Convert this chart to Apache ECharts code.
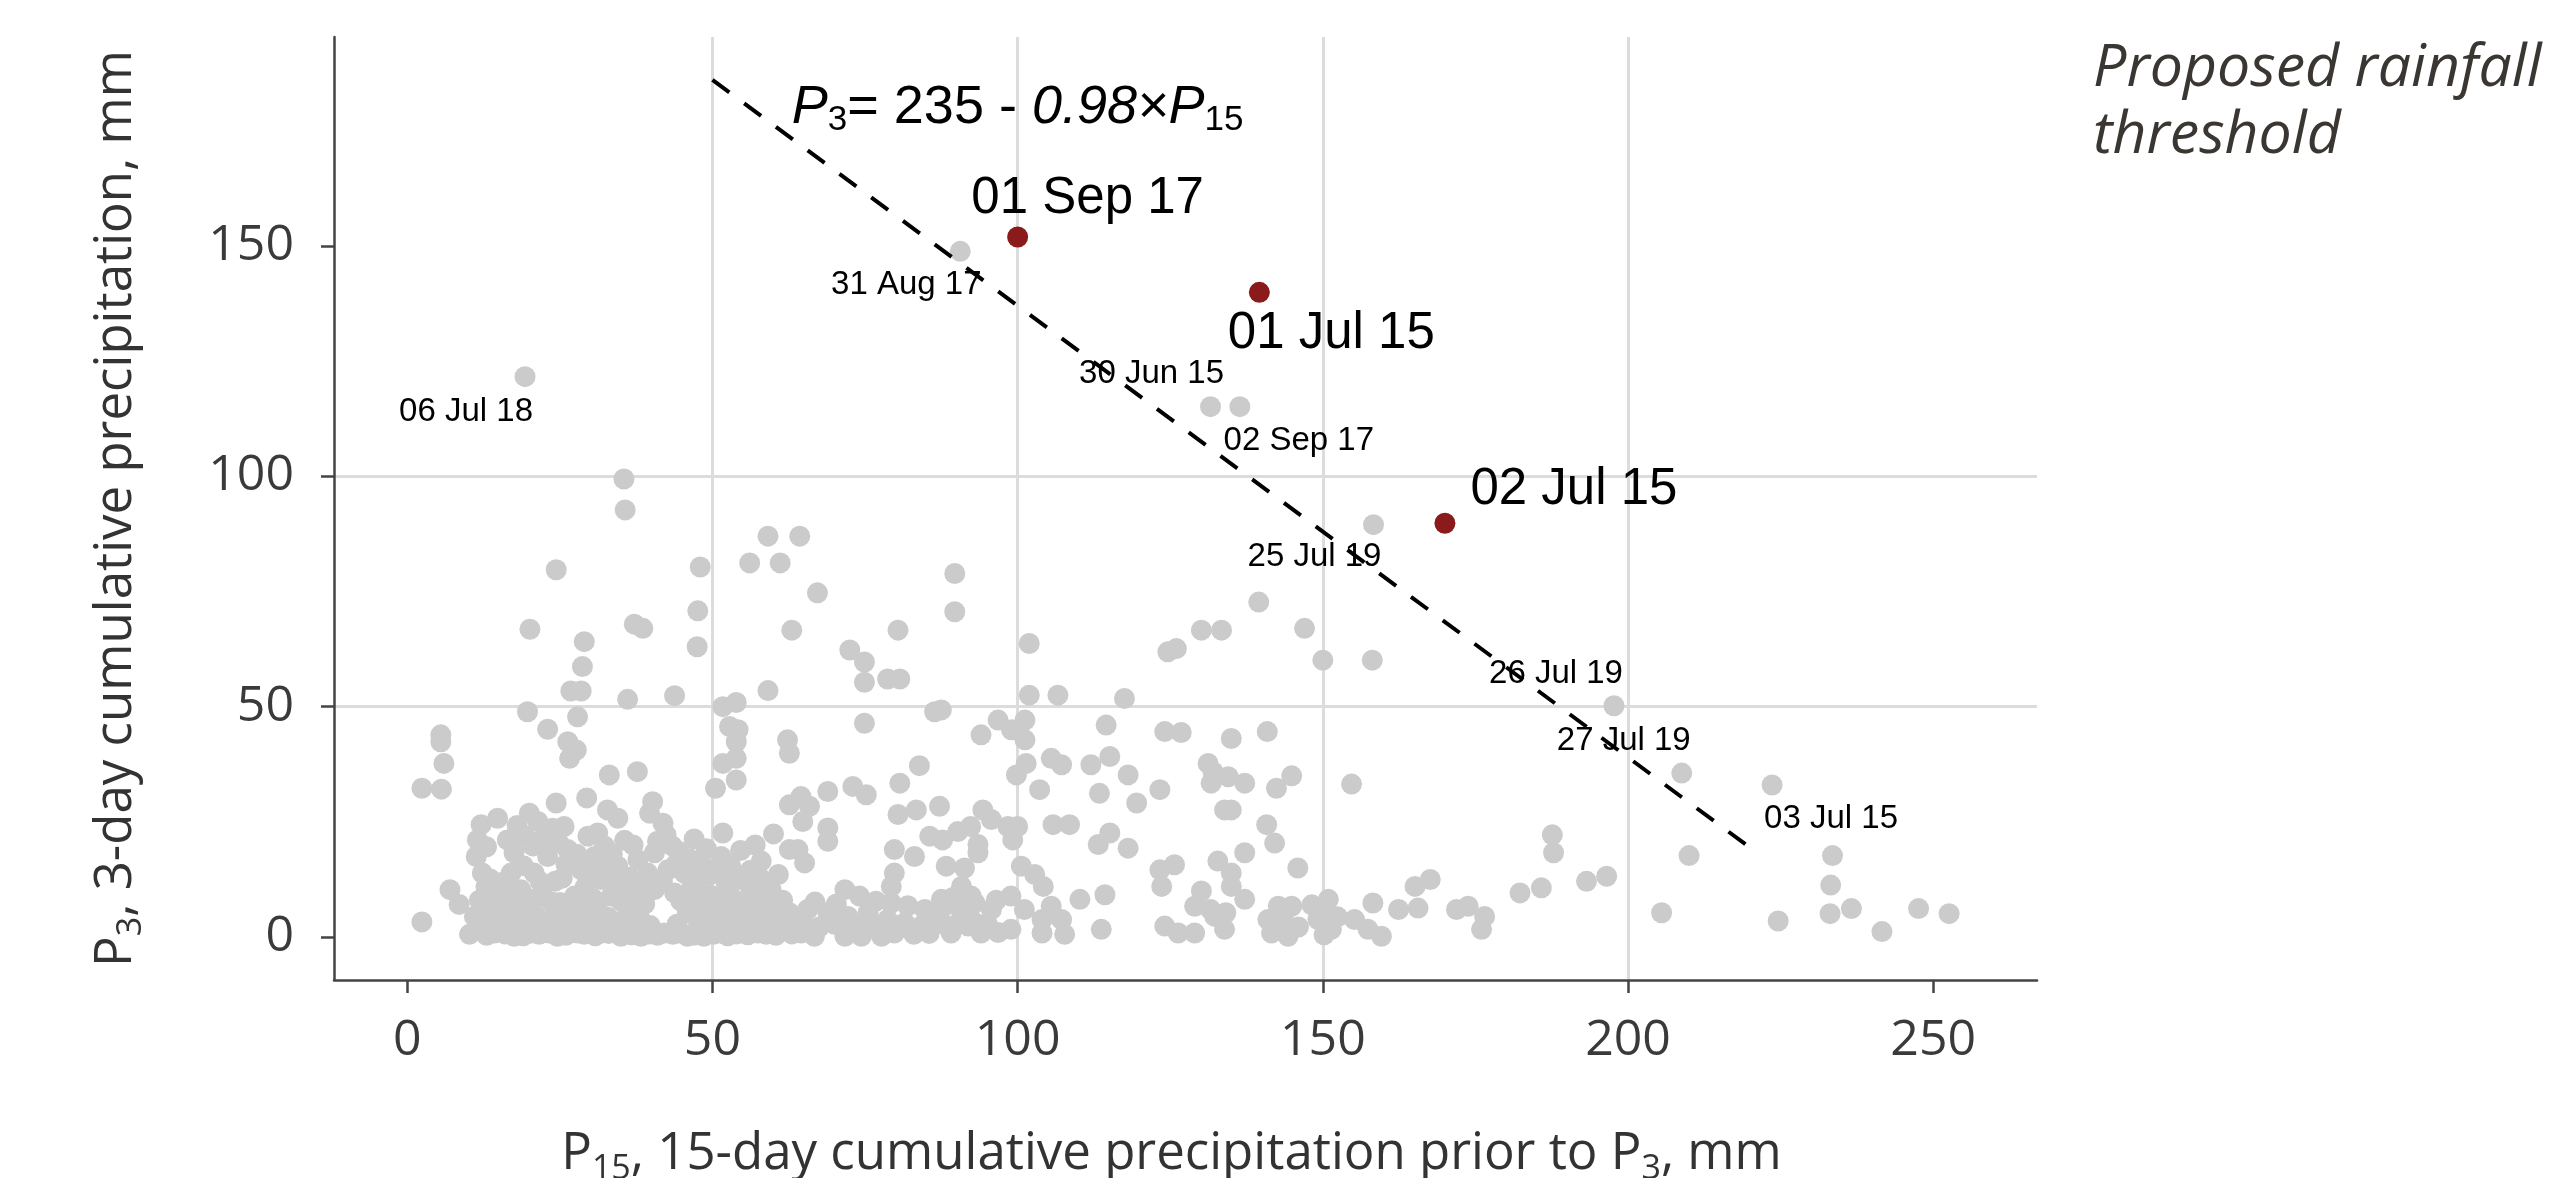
<!DOCTYPE html>
<html>
<head>
<meta charset="utf-8">
<script src="https://cdn.jsdelivr.net/npm/echarts@6/dist/echarts.min.js"></script>
<style>html,body{margin:0;padding:0;background:#fff}#c{width:2553px;height:1178px}</style>
</head>
<body>
<div id="c"></div>
<script>
// ---------- data ----------
const xTicks = [0, 50, 100, 150, 200, 250];
const yTicks = [0, 50, 100, 150];

const grayPoints = [
  [24.4,79.7],[48.0,80.3],[59.1,87.0],[56.1,81.2],[61.1,81.2],[64.3,87.0],
  [20.1,66.8],[29.0,64.1],[28.7,58.7],[26.8,53.4],[28.5,53.4],[36.1,51.6],[43.8,52.4],[59.1,53.5],
  [37.2,67.9],[38.6,67.0],[47.6,70.8],[47.5,63.0],[63.0,66.6],
  [19.7,48.9],[23.0,45.1],[27.9,47.8],[26.3,42.4],[27.7,40.6],[26.6,38.8],
  [5.5,43.9],[5.5,42.4],[6.0,37.7],[2.4,32.3],[5.6,32.1],
  [33.1,35.2],[37.7,35.9],
  [51.7,50.0],[53.9,50.9],[52.8,45.7],[54.2,45.0],[53.9,42.4],[53.9,38.8],[51.7,37.7],[53.9,34.1],[50.5,32.3],
  [62.3,42.8],[62.6,39.9],[62.6,28.7],
  [24.4,29.1],[29.4,30.2],[32.8,27.6],[34.5,25.8],[35.6,21.0],
  [40.2,29.4],[39.7,26.9],[41.9,24.7],[42.4,22.2],[41.0,20.8],
  [47.0,21.3],[51.7,22.6],[58.0,16.5],[62.6,19.0],
  [2.4,3.3],[7.0,10.3],[8.5,7.1],
  [35.5,99.4],[35.7,92.7],
  [12.1,24.4],[14.8,25.8],[20.0,26.9],[21.4,25.1],[11.5,21.1],[11.3,17.5],[12.3,13.9],[12.9,11.0],[11.0,4.5],[11.5,1.7],
  [13.7,6.7],[14.3,0.9],[16.4,21.1],[17.5,18.3],[17.0,13.9],[18.6,10.3],[16.4,9.6],[15.4,3.8],[17.5,0.2],[20.3,0.9],
  [21.9,21.1],[23.0,17.5],[20.8,13.9],[22.2,8.9],[23.6,3.8],[24.6,0.2],[25.7,24.0],[26.3,19.0],[29.6,21.9],[28.5,14.6],
  [27.4,8.9],[26.3,5.3],[27.9,0.9],[30.7,17.5],[31.7,12.5],[34.5,15.4],[33.4,8.9],[31.2,6.0],[31.7,0.9],[36.1,8.9],
  [37.2,3.8],[35.0,0.2],[38.3,0.2],[40.5,18.3],[39.4,13.9],[40.5,10.3],[42.7,14.6],[43.8,9.6],[42.1,0.9],[45.4,13.9],
  [48.1,16.1],[47.6,11.0],[45.9,5.3],[45.9,0.2],[49.2,3.8],[48.6,0.2],[51.4,17.5],[53.0,15.4],[54.2,12.5],[51.9,6.0],
  [51.4,0.9],[54.7,0.9],[57.4,0.9],[59.6,10.3],[57.4,7.4],[60.2,6.0],[62.6,5.3],[62.3,1.7],[29.6,3.8],[19.7,3.8],[50.8,3.8],
  [12.8,3.0],[16.0,6.5],[18.9,2.2],[19.5,7.0],[21.0,4.8],[22.8,1.2],[25.0,7.5],[25.8,2.6],[28.8,6.5],[30.2,2.0],
  [32.9,4.3],[34.0,11.5],[33.8,1.5],[36.5,5.9],[38.9,7.2],[39.8,2.5],[44.2,2.8],[44.8,7.9],[46.8,8.2],[47.5,1.8],
  [49.9,9.0],[50.0,1.2],[52.8,2.6],[53.5,8.2],[55.8,4.0],[56.2,10.8],[58.6,3.2],[61.0,2.8],[15.2,11.8],[19.0,15.5],
  [24.2,12.1],[26.0,15.8],[29.1,10.8],[32.3,19.8],[37.8,16.8],[38.2,11.5],[44.5,18.6],[49.5,13.4],[56.2,14.5],[20.6,19.8],
  [13.0,19.6],[23.8,23.6],[18.0,24.2],
  [10.2,0.6],[13.0,0.4],[16.0,0.7],[19.0,0.3],[21.6,0.6],[23.2,0.9],[26.0,0.4],[29.0,0.6],[30.8,0.3],[33.0,0.8],
  [36.8,0.5],[39.6,0.7],[41.0,0.4],[43.5,0.6],[44.6,0.9],[47.0,0.4],[50.2,0.6],[52.5,0.3],[53.9,0.7],[55.8,0.5],
  [58.8,0.6],[60.4,0.4],[63.0,0.7],
  [12.0,3.8],[14.8,4.6],[17.8,3.6],[20.4,3.4],[24.8,4.2],[27.0,3.5],[30.0,4.7],[34.8,3.4],[38.0,4.4],[47.8,4.6],
  [53.0,4.8],[57.0,3.9],[59.5,4.3],[61.8,3.6],
  [11.8,8.0],[14.5,8.6],[17.2,7.9],[20.0,8.3],[23.6,7.6],[30.4,8.4],[35.0,7.8],[37.6,9.0],[46.0,9.6],[48.8,7.4],
  [52.0,9.2],[55.0,7.6],[58.2,8.6],[61.5,8.0],
  [13.6,12.6],[16.0,11.2],[21.8,12.0],[25.4,12.8],[30.0,14.6],[32.6,15.2],[36.4,13.0],[41.8,12.2],[44.0,15.8],[46.5,12.6],
  [50.8,15.0],[52.2,12.0],[57.8,12.8],[60.8,13.6],
  [19.2,22.0],[24.8,20.5],[27.8,18.0],[31.2,22.6],[33.6,18.0],[37.0,20.0],[43.4,19.8],[46.2,17.0],[49.0,19.2],[54.6,18.8],
  [57.0,20.0],[60.0,22.4],
  [67.2,74.7],[89.7,78.9],[89.7,70.6],[80.4,66.6],[72.5,62.3],[74.9,59.7],[74.9,55.3],[78.7,56.0],[80.7,56.0],[86.4,48.9],
  [87.5,49.3],[74.9,46.4],[96.8,47.1],[94.0,43.9],[99.0,45.0],[101.2,47.1],[101.2,42.8],[101.9,52.5],[106.6,52.5],[101.9,63.7],
  [101.4,37.7],[99.8,35.2],[83.9,37.2],[80.7,33.4],[68.9,31.6],[73.0,32.7],[75.2,30.9],[64.5,30.5],[65.9,28.4],[64.8,25.1],
  [68.9,23.7],[68.9,20.8],[64.0,19.0],[65.1,16.1],[80.4,26.6],[83.4,27.6],[87.2,28.4],[94.3,27.6],[95.7,25.5],[85.6,21.9],
  [87.7,21.1],[90.2,22.9],[92.3,24.0],[93.5,20.1],[93.5,18.3],[98.4,24.0],[100.0,24.0],[99.2,21.1],[79.8,19.0],[79.8,13.9],
  [79.3,11.0],[83.1,17.5],[88.3,15.4],[91.3,15.0],[90.8,11.0],[100.6,15.4],[102.8,13.6],[104.2,11.0],[71.7,10.3],[74.1,8.9],
  [98.9,8.9],[101.1,6.0],[105.5,6.7],[107.2,3.8],[110.2,8.2],[114.3,9.2],[113.7,1.7],[98.9,1.7],[104.0,0.9],[107.7,0.6],
  [65.6,6.0],[68.9,5.3],[72.2,4.5],[75.5,5.3],[78.7,3.8],[81.5,3.1],[84.2,2.4],[86.4,3.8],[89.1,0.9],[91.9,2.4],
  [94.0,0.9],[95.7,6.0],[64.5,0.9],[66.7,0.2],[71.7,0.2],[74.4,0.2],[77.7,0.2],[79.8,0.9],[88.0,6.7],[90.8,6.0],
  [93.0,7.4],[79.3,7.4],[87.5,8.2],[92.4,8.9],[93.0,3.1],[104.0,3.8],
  [65.0,2.6],[67.5,2.2],[70.0,2.8],[73.2,2.4],[76.0,2.6],[80.5,2.2],[83.0,0.6],[85.5,0.8],[88.0,2.7],[90.5,3.4],
  [95.0,2.9],[96.8,1.0],[66.8,7.6],[70.3,7.2],[76.8,7.8],[82.0,6.8],[84.8,6.0],[89.4,8.6],[96.5,8.0],
  [124.1,44.6],[126.8,44.4],[135.0,43.1],[124.6,61.9],[126.0,62.6],[130.1,66.6],[133.4,66.6],[139.5,72.7],[117.5,51.8],[114.5,46.0],
  [112.0,37.4],[115.1,39.2],[118.1,35.2],[113.4,31.2],[119.5,29.1],[123.3,32.0],[131.2,37.7],[132.0,35.9],[134.5,34.8],[137.2,33.4],
  [131.7,33.4],[133.9,27.6],[135.0,27.6],[103.6,32.0],[105.5,38.8],[107.2,37.4],[105.8,24.4],[108.5,24.4],[113.2,20.1],[115.1,22.6],
  [118.1,19.3],[123.3,14.6],[125.7,15.7],[123.6,11.0],[132.8,16.5],[137.2,18.3],[135.0,13.9],[135.0,11.0],[137.2,8.2],[130.1,10.0],
  [129.0,6.7],[132.3,4.5],[133.9,1.7],[124.1,2.4],[126.3,0.9],[129.0,0.9],[131.6,6.0],[134.1,5.3],
  [147.0,67.0],[150.0,60.1],[158.1,60.1],[140.9,44.6],[144.9,35.0],[142.4,32.3],[154.7,33.2],[140.8,24.4],[142.1,20.4],[145.9,15.0],
  [142.7,6.7],[144.9,6.7],[142.1,2.4],[144.3,0.2],[141.0,3.8],[150.9,8.2],[149.2,3.8],[151.4,1.7],[149.8,5.3],[158.2,7.4],
  [155.2,3.8],[157.4,1.7],[159.6,0.2],[162.4,6.0],[165.6,6.3],[165.1,11.0],[167.6,12.5],[171.9,6.0],[173.8,6.7],[176.5,4.5],
  [176.0,1.7],[182.3,9.6],[185.8,10.7],[187.6,22.2],[187.8,18.3],[193.2,12.1],[196.5,13.2],[210.0,17.7],[205.5,5.3],
  [143.5,4.5],[141.6,0.9],[146.0,2.2],[150.2,0.5],[152.4,4.4],[148.2,7.0],
  [233.5,17.7],[233.2,11.3],[233.1,5.1],[236.6,6.2],[224.6,3.5],[241.6,1.2],[247.6,6.2],[252.6,5.1]
];

const labeledPoints = [
  [90.6, 148.8, '31 Aug 17'],
  [19.3, 121.6, '06 Jul 18'],
  [131.6, 115.1, '30 Jun 15'],
  [136.4, 115.1, '02 Sep 17'],
  [158.3, 89.5, '25 Jul 19'],
  [197.7, 50.2, '26 Jul 19'],
  [208.8, 35.6, '27 Jul 19'],
  [223.6, 33.0, '03 Jul 15']
];

const eventPoints = [
  [100.0, 151.9, '01 Sep 17'],
  [139.6, 139.9, '01 Jul 15'],
  [170.0, 89.8, '02 Jul 15']
];

const thresholdLine = [[50, 186.0], [220, 19.4]];
const equationAnchor = [100.0, 179.3];

// ---------- layout (label offsets in px, relative to point) ----------
const labelOffsets = {
  '31 Aug 17': [-54, 34], '06 Jul 18': [-59, 35], '30 Jun 15': [-59, -33], '02 Sep 17': [59, 34],
  '25 Jul 19': [-59, 32], '26 Jul 19': [-58, -32], '27 Jul 19': [-58, -32], '03 Jul 15': [59, 34]
};
const eventOffsets = { '01 Sep 17': [70, -38], '01 Jul 15': [72, 42], '02 Jul 15': [129, -33] };

const chart = echarts.init(document.getElementById('c'), null, { renderer: 'canvas' });
const axisColor = '#444';
const textColor = '#3a3a3a';
const titleRich = {
  m: { fontSize: 51, fontFamily: 'Open Sans', color: '#333', lineHeight: 60, padding: [0, 0, 4, 0] },
  s: { fontSize: 34, fontFamily: 'Open Sans', color: '#333', lineHeight: 34, verticalAlign: 'bottom' }
};

const option = {
  animation: false,
  backgroundColor: '#ffffff',
  grid: { left: 334, right: 516, top: 37, bottom: 198, containLabel: false, outerBoundsMode: 'none' },
  xAxis: {
    type: 'value', min: -12, max: 267,
    axisLine: { show: true, onZero: false, lineStyle: { color: axisColor, width: 2.5 } },
    axisTick: { show: true, length: 13, customValues: xTicks, lineStyle: { color: axisColor, width: 2.5 } },
    axisLabel: { customValues: xTicks, margin: 36, fontSize: 50, fontFamily: 'Open Sans', color: textColor },
    splitLine: { show: true, showMinLine: false, showMaxLine: false, lineStyle: { color: '#dcdcdc', width: 3 } },
    name: '{m|P}{s|15}{m|, 15-day cumulative precipitation prior to P}{s|3}{m|, mm}',
    nameLocation: 'middle', nameGap: 146,
    nameTextStyle: { padding: [0, 28, 0, 0], rich: titleRich }
  },
  yAxis: {
    type: 'value', min: -9.3, max: 195.3,
    axisLine: { show: true, onZero: false, lineStyle: { color: axisColor, width: 2.5 } },
    axisTick: { show: true, length: 13, customValues: yTicks, lineStyle: { color: axisColor, width: 2.5 } },
    axisLabel: { customValues: yTicks, margin: 40, fontSize: 50, fontFamily: 'Open Sans', color: textColor },
    splitLine: { show: true, showMinLine: false, showMaxLine: false, lineStyle: { color: '#dcdcdc', width: 3 } },
    name: '{m|P}{s|3}{m|, 3-day cumulative precipitation, mm}',
    nameLocation: 'middle', nameRotate: 90, nameGap: 186,
    nameTextStyle: { rich: titleRich }
  },
  series: [
    {
      type: 'scatter', data: grayPoints, symbolSize: 21, silent: true,
      itemStyle: { color: '#cbcbcb', opacity: 1 }, z: 2
    },
    {
      type: 'scatter', symbolSize: 21, silent: true, z: 2,
      itemStyle: { color: '#cbcbcb', opacity: 1 },
      data: labeledPoints.map(p => ({ value: [p[0], p[1]], name: p[2], label: { offset: labelOffsets[p[2]] } })),
      label: { show: true, position: 'inside', formatter: '{b}', fontSize: 33, fontFamily: 'Liberation Sans', color: '#000', opacity: 1, textBorderWidth: 0 }
    },
    {
      type: 'line', data: thresholdLine, symbol: 'none', silent: true, z: 3,
      lineStyle: { color: '#000', width: 4, type: [21, 18.5], opacity: 1 }
    },
    {
      type: 'scatter', symbolSize: 21, silent: true, z: 4,
      itemStyle: { color: '#8b1a1a', opacity: 1 },
      data: eventPoints.map(p => ({ value: [p[0], p[1]], name: p[2], label: { offset: eventOffsets[p[2]] } })),
      label: { show: true, position: 'inside', formatter: '{b}', fontSize: 51, fontFamily: 'Liberation Sans', color: '#000', opacity: 1, textBorderWidth: 0 }
    },
    {
      type: 'scatter', symbolSize: 0, silent: true, z: 5,
      itemStyle: { opacity: 1 },
      data: [{ value: equationAnchor }],
      label: {
        show: true, position: 'inside', textBorderWidth: 0, opacity: 1,
        formatter: '{i|P}{s|3}{n|= 235 - }{i|0.98×P}{s|15}',
        rich: {
          i: { fontSize: 54, fontFamily: 'Liberation Sans', fontStyle: 'italic', color: '#000', lineHeight: 55, padding: [0, 0, 6, 0] },
          n: { fontSize: 54, fontFamily: 'Liberation Sans', color: '#000', lineHeight: 55, padding: [0, 0, 6, 0] },
          s: { fontSize: 35, fontFamily: 'Liberation Sans', color: '#000', lineHeight: 35, verticalAlign: 'bottom' }
        }
      }
    }
  ],
  graphic: [
    {
      type: 'text', left: 2093, top: 36, silent: true,
      style: { text: 'Proposed rainfall\nthreshold', fontSize: 59, fontStyle: 'italic', fontFamily: 'Open Sans', fill: '#3a3632', lineHeight: 67 }
    }
  ]
};
chart.setOption(option);
</script>
</body>
</html>
